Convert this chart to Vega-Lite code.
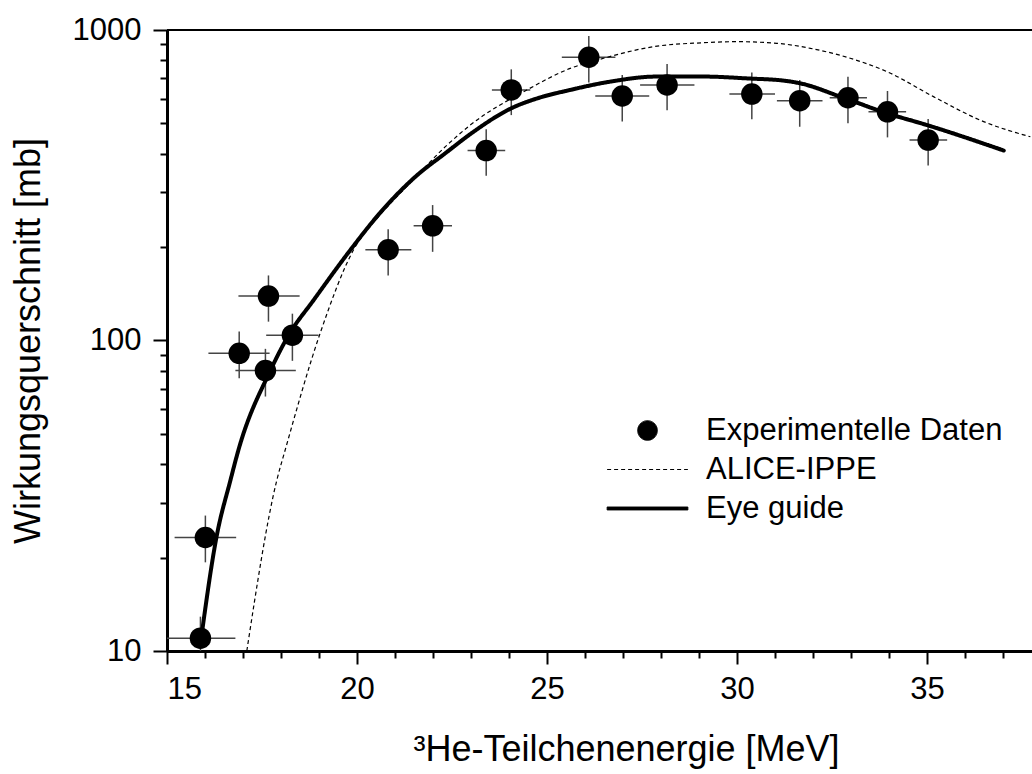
{
  "$schema": "https://vega.github.io/schema/vega-lite/v6.json",
  "autosize": {"type": "none"},
  "padding": {"left": 167, "top": 30, "right": 0, "bottom": 123},
  "width": 865,
  "height": 621,
  "background": "white",
  "config": {
    "view": {"stroke": "black", "strokeWidth": 2, "strokeDash": [865, 621]},
    "font": "Liberation Sans",
    "axis": {"grid": false, "domainColor": "black", "tickColor": "black", "labelColor": "black", "titleColor": "black", "labelFont": "Liberation Sans", "titleFont": "Liberation Sans", "titleFontWeight": "normal"},
    "legend": {"orient": "none", "legendX": 465, "legendY": 385, "title": null, "padding": 0, "labelFontSize": 31, "labelFont": "Liberation Sans", "labelColor": "black", "labelOffset": 43, "labelLimit": 0, "symbolSize": 388, "symbolStrokeWidth": 1, "symbolStrokeColor": "black", "symbolFillColor": "black", "rowPadding": 7}
  },
  "datasets": {
    "pts": [
      {"x": 15.88, "y": 11.0, "xlo": 15.0, "xhi": 16.8, "ylo": 9.0, "yhi": 12.9, "series": "Experimentelle Daten"},
      {"x": 16.01, "y": 23.2, "xlo": 15.2, "xhi": 16.82, "ylo": 19.3, "yhi": 27.3, "series": "Experimentelle Daten"},
      {"x": 16.90, "y": 90.9, "xlo": 16.09, "xhi": 17.70, "ylo": 75.6, "yhi": 107, "series": "Experimentelle Daten"},
      {"x": 17.59, "y": 80.0, "xlo": 16.80, "xhi": 18.39, "ylo": 66, "yhi": 94, "series": "Experimentelle Daten"},
      {"x": 17.67, "y": 139, "xlo": 16.88, "xhi": 18.49, "ylo": 115, "yhi": 162, "series": "Experimentelle Daten"},
      {"x": 18.30, "y": 104, "xlo": 17.61, "xhi": 18.99, "ylo": 86, "yhi": 122, "series": "Experimentelle Daten"},
      {"x": 20.82, "y": 196, "xlo": 20.22, "xhi": 21.43, "ylo": 162, "yhi": 228, "series": "Experimentelle Daten"},
      {"x": 21.99, "y": 234, "xlo": 21.49, "xhi": 22.50, "ylo": 193, "yhi": 273, "series": "Experimentelle Daten"},
      {"x": 23.40, "y": 409, "xlo": 22.91, "xhi": 23.90, "ylo": 339, "yhi": 479, "series": "Experimentelle Daten"},
      {"x": 24.06, "y": 641, "xlo": 23.55, "xhi": 24.56, "ylo": 532, "yhi": 747, "series": "Experimentelle Daten"},
      {"x": 26.10, "y": 817, "xlo": 25.39, "xhi": 26.80, "ylo": 677, "yhi": 956, "series": "Experimentelle Daten"},
      {"x": 26.98, "y": 613, "xlo": 26.27, "xhi": 27.69, "ylo": 507, "yhi": 716, "series": "Experimentelle Daten"},
      {"x": 28.16, "y": 665, "xlo": 27.45, "xhi": 28.88, "ylo": 552, "yhi": 777, "series": "Experimentelle Daten"},
      {"x": 30.39, "y": 622, "xlo": 29.80, "xhi": 31.00, "ylo": 516, "yhi": 729, "series": "Experimentelle Daten"},
      {"x": 31.65, "y": 592, "xlo": 31.05, "xhi": 32.25, "ylo": 488, "yhi": 690, "series": "Experimentelle Daten"},
      {"x": 32.92, "y": 605, "xlo": 32.44, "xhi": 33.42, "ylo": 501, "yhi": 707, "series": "Experimentelle Daten"},
      {"x": 33.96, "y": 545, "xlo": 33.46, "xhi": 34.45, "ylo": 451, "yhi": 636, "series": "Experimentelle Daten"},
      {"x": 35.03, "y": 442, "xlo": 34.54, "xhi": 35.53, "ylo": 366, "yhi": 517, "series": "Experimentelle Daten"}
    ],
    "alice": [
      {"x": 17.1, "y": 10, "series": "ALICE-IPPE"},
      {"x": 17.89, "y": 35.5, "series": "ALICE-IPPE"},
      {"x": 18.11, "y": 44.4, "series": "ALICE-IPPE"},
      {"x": 19.03, "y": 105.5, "series": "ALICE-IPPE"},
      {"x": 19.91, "y": 196, "series": "ALICE-IPPE"},
      {"x": 20.61, "y": 254, "series": "ALICE-IPPE"},
      {"x": 21.32, "y": 314, "series": "ALICE-IPPE"},
      {"x": 22.37, "y": 426, "series": "ALICE-IPPE"},
      {"x": 22.98, "y": 494, "series": "ALICE-IPPE"},
      {"x": 24.47, "y": 641, "series": "ALICE-IPPE"},
      {"x": 25.61, "y": 752, "series": "ALICE-IPPE"},
      {"x": 26.49, "y": 811, "series": "ALICE-IPPE"},
      {"x": 27.81, "y": 884, "series": "ALICE-IPPE"},
      {"x": 29.12, "y": 910, "series": "ALICE-IPPE"},
      {"x": 30.0, "y": 917, "series": "ALICE-IPPE"},
      {"x": 31.05, "y": 906, "series": "ALICE-IPPE"},
      {"x": 31.93, "y": 873, "series": "ALICE-IPPE"},
      {"x": 32.98, "y": 811, "series": "ALICE-IPPE"},
      {"x": 33.95, "y": 734, "series": "ALICE-IPPE"},
      {"x": 35.17, "y": 610, "series": "ALICE-IPPE"},
      {"x": 36.49, "y": 507, "series": "ALICE-IPPE"},
      {"x": 37.72, "y": 453, "series": "ALICE-IPPE"}
    ],
    "eye": [
      {"x": 15.9, "y": 11.0, "series": "Eye guide"},
      {"x": 16.30, "y": 23.2, "series": "Eye guide"},
      {"x": 16.67, "y": 35.5, "series": "Eye guide"},
      {"x": 16.88, "y": 44.4, "series": "Eye guide"},
      {"x": 17.72, "y": 80, "series": "Eye guide"},
      {"x": 18.20, "y": 104, "series": "Eye guide"},
      {"x": 18.86, "y": 135, "series": "Eye guide"},
      {"x": 19.83, "y": 196, "series": "Eye guide"},
      {"x": 20.61, "y": 258, "series": "Eye guide"},
      {"x": 21.49, "y": 333, "series": "Eye guide"},
      {"x": 22.37, "y": 405, "series": "Eye guide"},
      {"x": 22.98, "y": 462, "series": "Eye guide"},
      {"x": 24.12, "y": 564, "series": "Eye guide"},
      {"x": 24.74, "y": 602, "series": "Eye guide"},
      {"x": 25.61, "y": 641, "series": "Eye guide"},
      {"x": 26.67, "y": 682, "series": "Eye guide"},
      {"x": 27.89, "y": 708, "series": "Eye guide"},
      {"x": 29.12, "y": 708, "series": "Eye guide"},
      {"x": 30.3, "y": 698, "series": "Eye guide"},
      {"x": 31.23, "y": 687, "series": "Eye guide"},
      {"x": 31.67, "y": 673, "series": "Eye guide"},
      {"x": 32.72, "y": 610, "series": "Eye guide"},
      {"x": 33.95, "y": 539, "series": "Eye guide"},
      {"x": 35.0, "y": 494, "series": "Eye guide"},
      {"x": 37.02, "y": 409, "series": "Eye guide"}
    ]
  },
  "resolve": {"scale": {"x": "independent", "y": "independent"}, "axis": {"x": "independent", "y": "independent"}},
  "layer": [
    {
      "data": {"name": "pts"},
      "mark": {"type": "rule", "color": "#444444", "strokeWidth": 1.5, "clip": true},
      "encoding": {
        "x": {"field": "xlo", "type": "quantitative", "scale": {"domain": [15, 37.763], "nice": false, "zero": false},
          "axis": {"orient": "bottom", "values": [15, 20, 25, 30, 35], "tickSize": 13, "tickWidth": 2, "domainWidth": 3, "labelFontSize": 31, "labelPadding": 10,
            "title": "³He-Teilchenenergie [MeV]", "titleFontSize": 36, "titleX": 459, "titleY": 109, "titleBaseline": "alphabetic", "titleAlign": "center"}},
        "x2": {"field": "xhi"},
        "y": {"field": "y", "type": "quantitative", "scale": {"type": "log", "domain": [10, 1000], "nice": false},
          "axis": {"orient": "left", "values": [10, 100, 1000], "format": "d", "tickSize": 14, "tickWidth": 2, "domainWidth": 3, "labelFontSize": 31, "labelPadding": 12,
            "title": "Wirkungsquerschnitt [mb]", "titleFontSize": 36, "titlePadding": 25}}
      }
    },
    {
      "data": {"name": "pts"},
      "mark": {"type": "rule", "color": "#444444", "strokeWidth": 1.5, "clip": true},
      "encoding": {
        "x": {"field": "x", "type": "quantitative", "scale": {"domain": [15, 37.763], "nice": false, "zero": false},
          "axis": {"orient": "top", "offset": -621, "values": [16,17,18,19,21,22,23,24,26,27,28,29,31,32,33,34,36,37], "labels": false, "tickSize": -7, "tickWidth": 2, "domain": false, "title": null}},
        "y": {"field": "ylo", "type": "quantitative", "scale": {"type": "log", "domain": [10, 1000], "nice": false},
          "axis": {"orient": "right", "offset": -865, "values": [20,30,40,50,60,70,80,90,200,300,400,500,600,700,800,900], "labels": false, "tickSize": -7, "tickWidth": 2, "domain": false, "title": null}},
        "y2": {"field": "yhi"}
      }
    },
    {
      "data": {"name": "pts"},
      "mark": {"type": "point", "filled": true, "opacity": 1, "size": 462},
      "encoding": {
        "x": {"field": "x", "type": "quantitative", "scale": {"domain": [15, 37.763], "nice": false, "zero": false}, "axis": null},
        "y": {"field": "y", "type": "quantitative", "scale": {"type": "log", "domain": [10, 1000], "nice": false}, "axis": null},
        "color": {"field": "series", "type": "nominal", "scale": {"domain": ["Experimentelle Daten", "ALICE-IPPE", "Eye guide"], "range": ["black", "black", "black"]}},
        "shape": {"field": "series", "type": "nominal", "scale": {"domain": ["Experimentelle Daten", "ALICE-IPPE", "Eye guide"], "range": ["circle", "M-4.1,0L4.1,0", "M-4.1,-0.15L4.1,-0.15L4.1,0.15L-4.1,0.15Z"]}}
      }
    },
    {
      "data": {"name": "alice"},
      "mark": {"type": "line", "strokeWidth": 1.2, "interpolate": "monotone", "clip": true},
      "encoding": {
        "x": {"field": "x", "type": "quantitative", "scale": {"domain": [15, 37.763], "nice": false, "zero": false}, "axis": null},
        "y": {"field": "y", "type": "quantitative", "scale": {"type": "log", "domain": [10, 1000], "nice": false}, "axis": null},
        "color": {"field": "series", "type": "nominal"},
        "strokeDash": {"field": "series", "type": "nominal", "scale": {"domain": ["Experimentelle Daten", "ALICE-IPPE", "Eye guide"], "range": [[1, 0], [4, 3], [1, 0]]}}
      }
    },
    {
      "data": {"name": "eye"},
      "mark": {"type": "line", "strokeWidth": 4, "strokeCap": "round", "interpolate": "monotone", "clip": true},
      "encoding": {
        "x": {"field": "x", "type": "quantitative", "scale": {"domain": [15, 37.763], "nice": false, "zero": false}, "axis": null},
        "y": {"field": "y", "type": "quantitative", "scale": {"type": "log", "domain": [10, 1000], "nice": false}, "axis": null},
        "color": {"field": "series", "type": "nominal"},
        "strokeDash": {"field": "series", "type": "nominal"}
      }
    }
  ]
}
